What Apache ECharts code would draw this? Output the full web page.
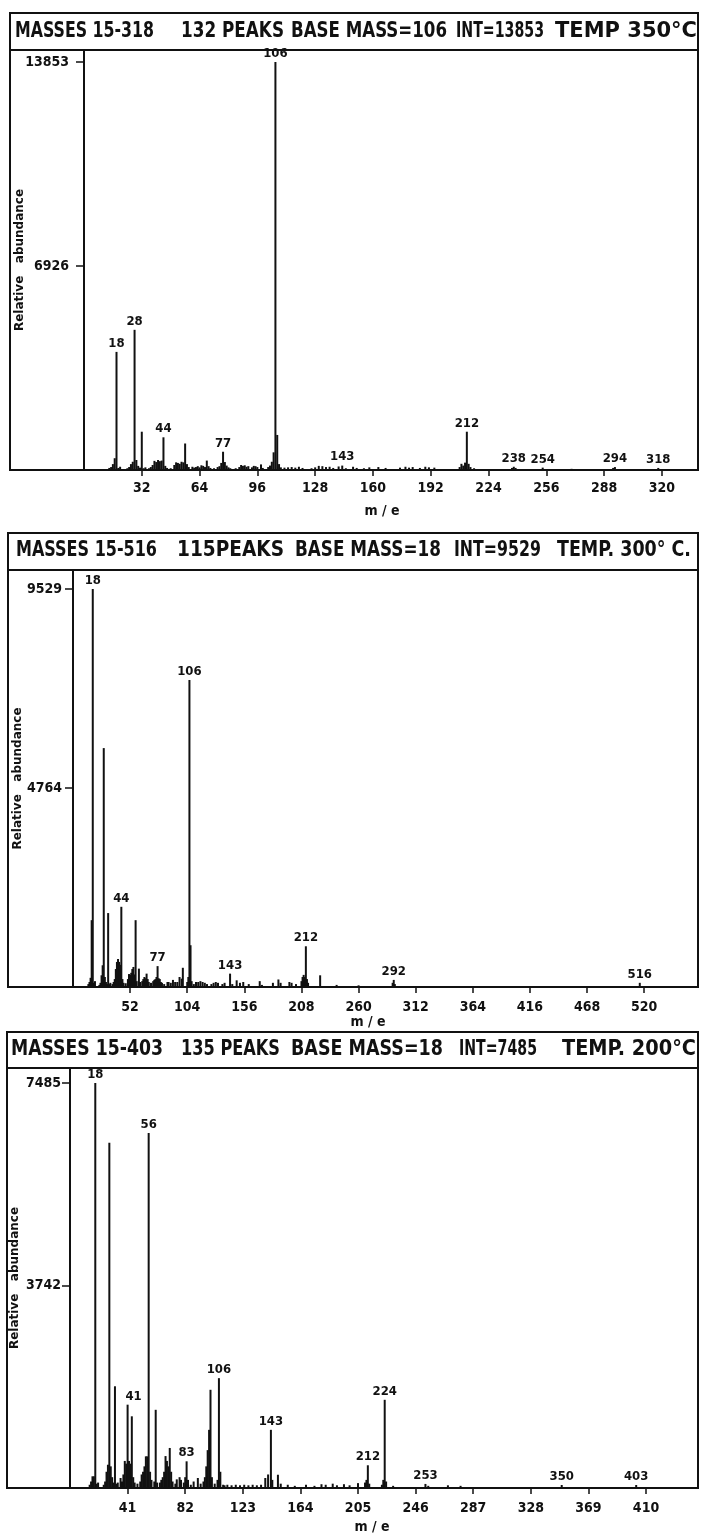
<!DOCTYPE html>
<html><head><meta charset="utf-8">
<script src="https://cdn.jsdelivr.net/npm/echarts@6/dist/echarts.min.js"></script>
<style>html,body{margin:0;padding:0;background:#fff}#c{width:702px;height:1538px}</style>
</head><body><div id="c"></div>
<script>
// ---------- DATA ----------
// Panel 1 : 350 C
const masses1 = [14,15,16,17,18,19,20,24,25,26,27,28,29,30,31,32,33,34,36,37,38,39,40,41,42,43,44,45,46,48,50,51,52,53,54,55,56,57,58,60,61,62,63,64,65,66,67,68,69,70,72,74,75,76,77,78,79,80,81,84,86,87,88,89,90,91,93,94,95,96,98,99,102,103,104,105,106,107,108,109,111,113,115,117,119,121,126,128,130,132,134,136,138,141,143,145,149,151,155,158,163,167,175,178,180,182,186,189,191,194,208,209,210,211,212,213,214,216,237,238,239,254,270,293,294,318];
const abund1  = [70,100,200,400,4010,70,110,60,100,200,280,4760,340,140,80,1300,60,90,60,100,170,310,270,340,300,320,1110,140,70,60,170,260,240,210,280,260,900,200,100,110,80,100,130,90,160,140,100,320,130,70,60,100,130,240,620,270,150,90,60,60,100,170,140,160,110,130,90,140,130,100,190,70,100,150,280,600,13853,1190,200,90,80,90,100,80,110,70,60,90,140,130,100,110,70,120,150,60,110,70,60,90,100,70,80,110,80,100,70,110,90,80,100,210,150,250,1300,210,100,60,70,110,70,80,40,70,100,70];
const labeled1 = [18,28,44,77,106,143,212,238,254,294,318];
const xTicks1 = [32,64,96,128,160,192,224,256,288,320];
const yTicks1 = [6926,13853];
const title1 = ["MASSES 15-318","132 PEAKS","BASE MASS=106","INT=13853","TEMP 350°C"];

// Panel 2 : 300 C
const masses2 = [14,15,16,17,18,19,20,24,25,26,27,28,29,30,31,32,33,34,36,37,38,39,40,41,42,43,44,45,46,48,50,51,52,53,54,55,56,57,58,60,61,63,64,65,66,67,68,69,71,73,74,75,76,77,78,79,80,81,83,86,87,89,91,93,95,97,99,100,104,105,106,107,108,110,112,114,116,118,120,122,126,128,130,132,136,138,143,145,149,152,155,160,170,172,182,187,189,197,199,203,208,209,210,211,212,213,214,225,240,260,291,292,293,516];
const abund2  = [70,120,220,1600,9529,100,140,50,100,280,520,5720,240,120,70,1770,70,100,70,120,190,430,600,670,600,530,1920,190,100,90,190,310,290,340,430,480,300,1600,140,440,120,140,190,240,210,320,190,120,100,140,170,190,240,500,210,190,120,100,70,120,120,100,170,120,120,240,200,460,120,240,7350,1000,140,70,120,120,140,120,100,70,70,100,120,100,70,100,320,70,160,100,120,70,140,50,100,180,100,120,100,70,140,240,290,240,975,190,100,280,50,40,100,170,70,100];
const labeled2 = [18,44,77,106,143,212,292,516];
const xTicks2 = [52,104,156,208,260,312,364,416,468,520];
const yTicks2 = [4764,9529];
const title2 = ["MASSES 15-516","115PEAKS","BASE MASS=18","INT=9529","TEMP. 300° C."];

// Panel 3 : 200 C
const masses3 = [14,15,16,17,18,19,20,24,25,26,27,28,29,30,31,32,33,34,36,37,38,39,40,41,42,43,44,45,46,48,50,51,52,53,54,55,56,57,58,60,61,62,64,65,66,67,68,69,70,71,72,73,75,76,78,79,81,82,83,84,86,88,91,93,95,96,97,98,99,100,101,103,105,106,107,109,110,112,115,118,121,124,127,130,133,136,139,141,143,144,148,150,155,160,168,174,179,182,187,190,195,199,205,210,211,212,213,222,223,224,225,230,253,255,269,278,350,403];
const abund3  = [60,120,216,216,7485,80,100,60,120,300,430,6380,400,200,100,1880,80,100,185,120,250,500,450,1540,500,450,1325,200,100,80,120,250,300,400,585,585,6560,300,150,120,1445,100,100,150,200,300,590,500,400,740,300,120,80,160,200,150,100,200,493,150,60,120,185,80,120,200,400,700,1075,1815,200,80,150,2030,300,60,50,60,50,60,50,60,50,60,50,60,185,250,1075,150,245,80,60,40,60,40,70,60,80,50,70,50,90,100,150,420,80,60,150,1630,120,40,75,40,50,40,55,55];
const labeled3 = [18,41,56,83,106,143,212,224,253,350,403];
const xTicks3 = [41,82,123,164,205,246,287,328,369,410];
const yTicks3 = [3742,7485];
const title3 = ["MASSES 15-403","135 PEAKS","BASE MASS=18","INT=7485","TEMP. 200°C"];

// ---------- LAYOUT ----------
const FONT = '"DejaVu Sans Condensed", "DejaVu Sans", sans-serif';
const INK = '#111';
const panels = [
  {m:masses1,a:abund1,lab:labeled1,xt:xTicks1,yt:yTicks1,title:title1,
   left:84,top:50,width:614,height:420,xMax:340,yMax:14261,boxX:10,boxTop:13,titleY:32,
   seg:[[15,154],[181,284],[291,447],[456,544],[555,697]],
   yLM:15,yNG:58,xNG:34,xNP:18,xLM:11},
  {m:masses2,a:abund2,lab:labeled2,xt:xTicks2,yt:yTicks2,title:title2,
   left:73,top:570,width:625,height:417,xMax:569,yMax:9984,boxX:8,boxTop:533,titleY:551,
   seg:[[16,157],[177,284],[295,441],[454,541],[557,691]],
   yLM:11,yNG:49,xNG:28,xNP:35,xLM:13},
  {m:masses3,a:abund3,lab:labeled3,xt:xTicks3,yt:yTicks3,title:title3,
   left:70,top:1068,width:628,height:420,xMax:447,yMax:7762,boxX:7,boxTop:1032,titleY:1050,
   seg:[[11,163],[181,280],[291,443],[459,537],[562,696]],
   yLM:9,yNG:49,xNG:32,xNP:24,xLM:13}
];
const labelOffsets = {'2-41':[6,0]};

const ctx = document.createElement('canvas').getContext('2d');
const TITLE_FONT = 'bold 21px ' + FONT;
ctx.font = TITLE_FONT;

const grid=[], xAxis=[], yAxis=[], series=[], graphic=[];
panels.forEach((p,i)=>{
  grid.push({left:p.left, top:p.top, width:p.width, height:p.height, containLabel:false, outerBoundsMode:'none'});
  xAxis.push({type:'value', gridIndex:i, min:0, max:p.xMax,
    name:'m / e', nameLocation:'middle', nameGap:p.xNG, nameMoveOverlap:false,
    nameTextStyle:{fontFamily:FONT, fontSize:14, fontWeight:'bold', color:INK, padding:[0,p.xNP,0,0]},
    axisLine:{show:true, onZero:false, lineStyle:{color:INK, width:2}},
    axisTick:{show:true, length:6, lineStyle:{color:INK, width:1.5}, customValues:p.xt},
    axisLabel:{show:true, margin:p.xLM, customValues:p.xt, formatter:(v)=>String(v),
      fontFamily:FONT, fontSize:14, fontWeight:'bold', color:INK},
    splitLine:{show:false}});
  yAxis.push({type:'value', gridIndex:i, min:0, max:p.yMax,
    name:'Relative   abundance', nameLocation:'middle', nameGap:p.yNG, nameMoveOverlap:false,
    nameTextStyle:{fontFamily:'"DejaVu Sans", sans-serif', fontSize:12, fontWeight:'bold', color:INK},
    axisLine:{show:true, lineStyle:{color:INK, width:2}},
    axisTick:{show:true, length:8, lineStyle:{color:INK, width:1.5}, customValues:p.yt},
    axisLabel:{show:true, margin:p.yLM, customValues:p.yt, formatter:(v)=>String(v),
      fontFamily:FONT, fontSize:14, fontWeight:'bold', color:INK},
    splitLine:{show:false}});
  series.push({type:'bar', xAxisIndex:i, yAxisIndex:i, barWidth:2, animation:false,
    itemStyle:{color:INK},
    label:{show:false, position:'top', distance:2, fontFamily:FONT, fontSize:13, fontWeight:'bold', color:INK,
      formatter:(q)=>String(q.value[0])},
    data:p.m.map((m,j)=>{
      const it={value:[m,p.a[j]]};
      if(p.lab.includes(m)){
        it.label={show:true};
        const off=labelOffsets[i+'-'+m];
        if(off) it.label.offset=off;
      }
      return it;
    })});
  const right = p.left + p.width, bottom = p.top + p.height;
  graphic.push({type:'rect', silent:true, z:100,
    shape:{x:p.boxX, y:p.boxTop, width:right-p.boxX, height:bottom-p.boxTop},
    style:{fill:'none', stroke:INK, lineWidth:2}});
  graphic.push({type:'line', silent:true, z:100,
    shape:{x1:p.boxX, y1:p.top, x2:right, y2:p.top},
    style:{stroke:INK, lineWidth:2}});
  p.title.forEach((t,k)=>{
    const [x0,x1]=p.seg[k];
    const w = ctx.measureText(t).width || 1;
    graphic.push({type:'text', silent:true, z:100, x:x0, y:p.titleY, scaleX:(x1-x0)/w,
      style:{text:t, font:TITLE_FONT, fill:INK, align:'left', verticalAlign:'middle',
             textAlign:'left', textVerticalAlign:'middle'}});
  });
});

const chart = echarts.init(document.getElementById('c'), null, {renderer:'canvas'});
chart.setOption({backgroundColor:'#fff', animation:false, grid, xAxis, yAxis, series, graphic});
</script></body></html>
